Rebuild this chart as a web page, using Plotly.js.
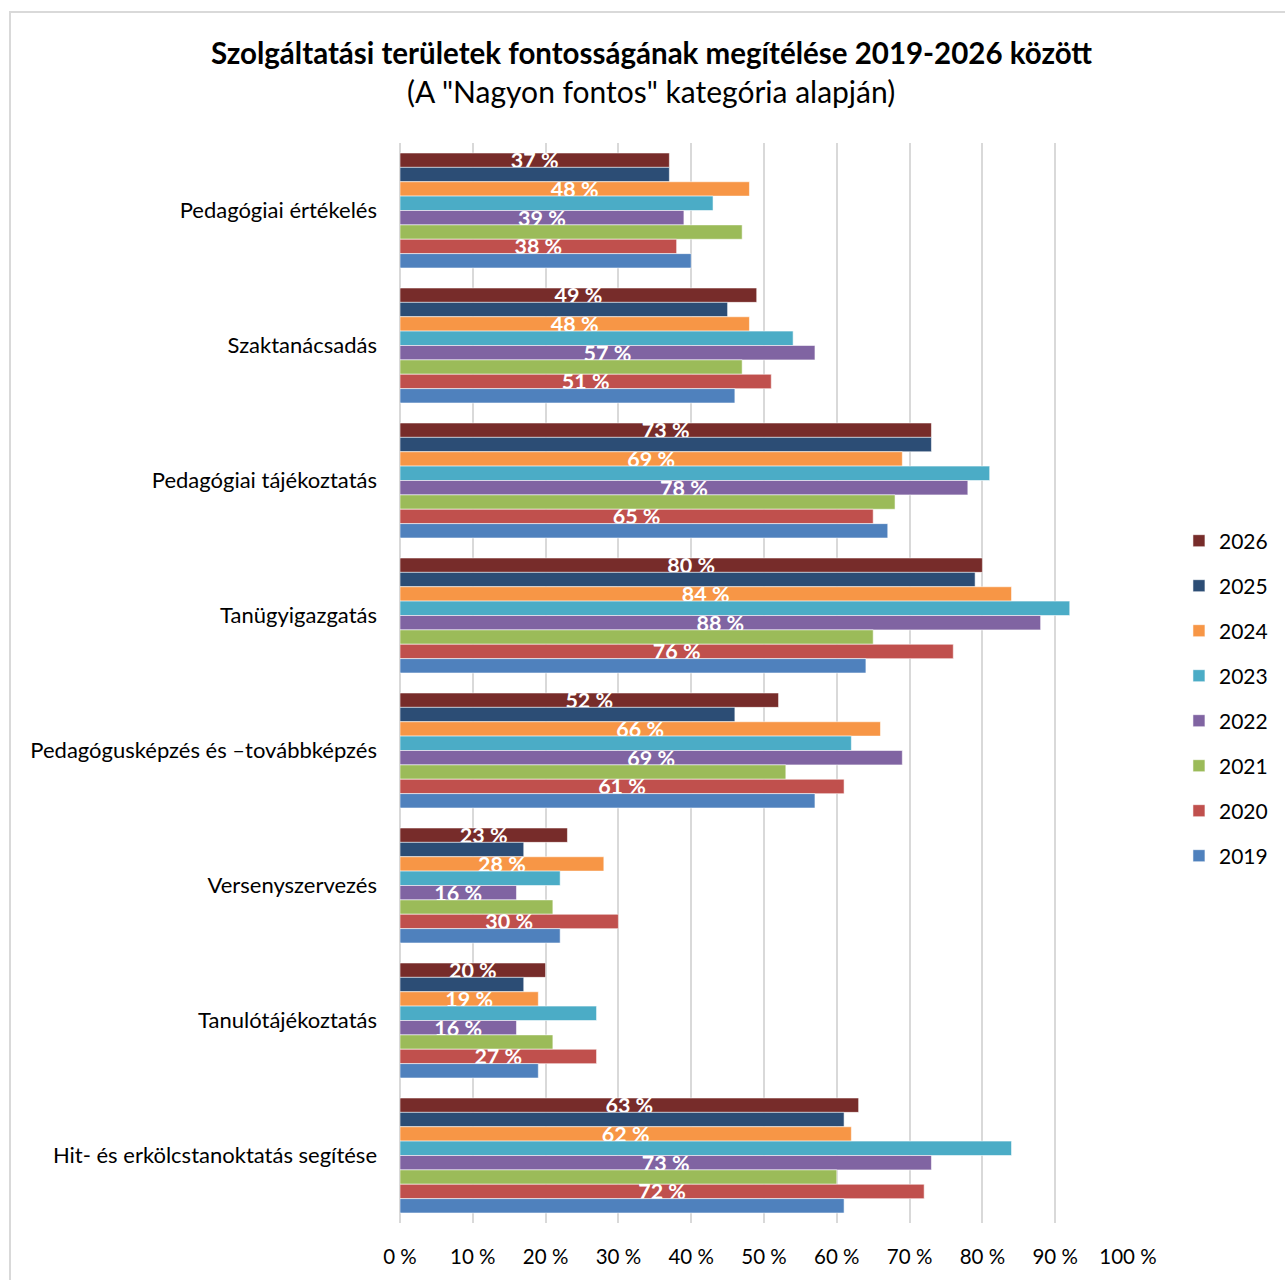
<!DOCTYPE html>
<html>
<head>
<meta charset="utf-8">
<script src="https://cdn.plot.ly/plotly-3.0.1.min.js"></script>
<style>
html,body{margin:0;padding:0;background:#fff;}
#wrap{position:relative;width:1285px;height:1280px;}
#chart{position:absolute;left:0;top:0;width:1285px;height:1280px;}
#frame{position:absolute;left:9px;top:11px;width:1290px;height:1290px;border:2px solid #D9D9D9;pointer-events:none;box-sizing:border-box;}
</style>
</head>
<body>
<div id="wrap"><div id="chart"></div><div id="frame"></div></div>
<script>
const categories = [
  "Pedagógiai értékelés",
  "Szaktanácsadás",
  "Pedagógiai tájékoztatás",
  "Tanügyigazgatás",
  "Pedagógusképzés és –továbbképzés",
  "Versenyszervezés",
  "Tanulótájékoztatás",
  "Hit- és erkölcstanoktatás segítése"
];
const years = ["2026","2025","2024","2023","2022","2021","2020","2019"];
const v2026 = [37, 49, 73, 80, 52, 23, 20, 63];
const v2025 = [37, 45, 73, 79, 46, 17, 17, 61];
const v2024 = [48, 48, 69, 84, 66, 28, 19, 62];
const v2023 = [43, 54, 81, 92, 62, 22, 27, 84];
const v2022 = [39, 57, 78, 88, 69, 16, 16, 73];
const v2021 = [47, 47, 68, 65, 53, 21, 21, 60];
const v2020 = [38, 51, 65, 76, 61, 30, 27, 72];
const v2019 = [40, 46, 67, 64, 57, 22, 19, 61];
const seriesValues = [v2026, v2025, v2024, v2023, v2022, v2021, v2020, v2019];
const labelled = [true, false, true, false, true, false, true, false];
const colors = ["#772C2A","#2C4D75","#F79646","#4BACC6","#8064A2","#9BBB59","#C0504D","#4F81BD"];
const xTickVals = [0,10,20,30,40,50,60,70,80,90,100];
const xTickText = xTickVals.map(v => v + " %");

const FONT = "Lato, 'Liberation Sans', sans-serif";

const traces = years.map((y, i) => ({
  type: "bar",
  orientation: "h",
  name: y,
  legendgroup: y,
  y: categories,
  x: seriesValues[i],
  marker: {color: colors[i], line: {color: "rgba(255,255,255,0.55)", width: 1}},
  text: labelled[i] ? seriesValues[i].map(v => v + " %") : undefined,
  texttemplate: labelled[i] ? "%{text}" : undefined,
  textposition: labelled[i] ? "inside" : "none",
  insidetextanchor: "middle",
  constraintext: "none",
  textangle: 0,
  textfont: {color: "#FFFFFF", size: 21.5, family: FONT, weight: "bold"},
  cliponaxis: false,
  hoverinfo: "skip"
}));

const layout = {
  width: 1285,
  height: 1280,
  paper_bgcolor: "rgba(0,0,0,0)",
  plot_bgcolor: "rgba(0,0,0,0)",
  font: {family: FONT, color: "#000000", size: 20},
  margin: {l: 400, r: 157, t: 143, b: 57, pad: 0},
  barmode: "group",
  bargap: 0.148,
  bargroupgap: 0,
  showlegend: true,
  legend: {
    x: 1.07, xanchor: "left", y: 0.4856, yanchor: "middle",
    traceorder: "grouped", tracegroupgap: 14.7,
    font: {size: 21, family: FONT, color: "#000000"},
    bgcolor: "rgba(0,0,0,0)", borderwidth: 0
  },
  xaxis: {
    range: [0, 100],
    tickmode: "array", tickvals: xTickVals, ticktext: xTickText,
    showgrid: true, gridcolor: "#D9D9D9", gridwidth: 2,
    zeroline: true, zerolinecolor: "#D9D9D9", zerolinewidth: 2,
    showline: false, ticks: "", ticklabelstandoff: 19,
    tickfont: {size: 20.5, family: FONT, color: "#000000"},
    fixedrange: true
  },
  yaxis: {
    type: "category",
    autorange: "reversed",
    showgrid: false, zeroline: false, showline: false, ticks: "",
    ticklabelstandoff: 22,
    tickfont: {size: 22, family: FONT, color: "#000000"},
    fixedrange: true
  },
  annotations: [
    {text: "<b>Szolgáltatási területek fontosságának megítélése 2019-2026 között</b>",
     xref: "paper", yref: "paper", x: (651-400)/728, y: (1223-52)/1080,
     xanchor: "center", yanchor: "middle", showarrow: false,
     font: {size: 29.5, family: FONT, color: "#000000"}},
    {text: "(A \"Nagyon fontos\" kategória alapján)",
     xref: "paper", yref: "paper", x: (651-400)/728, y: (1223-91)/1080,
     xanchor: "center", yanchor: "middle", showarrow: false,
     font: {size: 30, family: FONT, color: "#000000"}}
  ]
};

Plotly.newPlot("chart", traces, layout, {displayModeBar: false, staticPlot: true});
</script>
</body>
</html>
